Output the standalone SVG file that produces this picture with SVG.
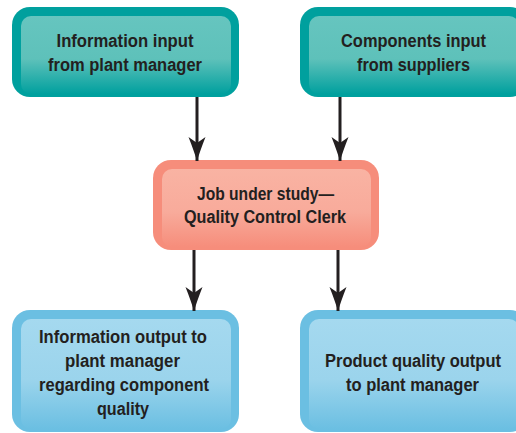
<svg xmlns="http://www.w3.org/2000/svg" width="516" height="433" viewBox="0 0 516 433">
  <defs>
    <linearGradient id="gTeal" x1="0" y1="0" x2="0" y2="1">
      <stop offset="0" stop-color="#66c5bf"/>
      <stop offset="0.55" stop-color="#5ec1ba"/>
      <stop offset="1" stop-color="#00a09e"/>
    </linearGradient>
    <linearGradient id="gSalmon" x1="0" y1="0" x2="0" y2="1">
      <stop offset="0" stop-color="#f9b3a3"/>
      <stop offset="0.55" stop-color="#f8ab9b"/>
      <stop offset="1" stop-color="#f68d7b"/>
    </linearGradient>
    <linearGradient id="gBlue" x1="0" y1="0" x2="0" y2="1">
      <stop offset="0" stop-color="#a5d9ef"/>
      <stop offset="0.55" stop-color="#9bd4ec"/>
      <stop offset="1" stop-color="#6bbfe2"/>
    </linearGradient>
    <marker id="arrow" markerUnits="userSpaceOnUse" markerWidth="26" markerHeight="20" refX="24" refY="10" orient="auto">
      <path d="M24,10 Q14,7 0,1.5 L6,10 L0,18.5 Q14,13 24,10 Z" fill="#231f20"/>
    </marker>
    <style>
      .teal { fill: #00a09e; }
      .salmon { fill: #f68d7b; }
      .blue { fill: #6bbfe2; }
      .lbl { font-family: "Liberation Sans", "DejaVu Sans", sans-serif; font-weight: bold; font-size: 18px; fill: #231f20; text-anchor: middle; }
      .conn { stroke: #231f20; stroke-width: 3; fill: none; marker-end: url(#arrow); }
    </style>
  </defs>

  <g id="node-info-input">
    <rect class="teal" x="12" y="7" width="227" height="90" rx="18"/>
    <rect x="21" y="16" width="210" height="78" rx="10" fill="url(#gTeal)"/>
    <text class="lbl" x="125" y="47" textLength="137" lengthAdjust="spacingAndGlyphs">Information input</text>
    <text class="lbl" x="125" y="71" textLength="154" lengthAdjust="spacingAndGlyphs">from plant manager</text>
  </g>

  <g id="node-components-input">
    <rect class="teal" x="300" y="7" width="228" height="90" rx="18"/>
    <rect x="309" y="16" width="210" height="78" rx="10" fill="url(#gTeal)"/>
    <text class="lbl" x="413.5" y="47" textLength="145" lengthAdjust="spacingAndGlyphs">Components input</text>
    <text class="lbl" x="413.5" y="71" textLength="113" lengthAdjust="spacingAndGlyphs">from suppliers</text>
  </g>

  <g id="node-job">
    <rect class="salmon" x="153" y="160" width="226" height="90" rx="18"/>
    <rect x="162" y="169" width="209" height="78" rx="10" fill="url(#gSalmon)"/>
    <text class="lbl" x="265.5" y="200" textLength="137" lengthAdjust="spacingAndGlyphs">Job under study—</text>
    <text class="lbl" x="265" y="223" textLength="162" lengthAdjust="spacingAndGlyphs">Quality Control Clerk</text>
  </g>

  <g id="node-info-output">
    <rect class="blue" x="12" y="310" width="227" height="122" rx="18"/>
    <rect x="21" y="319" width="210" height="110" rx="10" fill="url(#gBlue)"/>
    <text class="lbl" x="123" y="343" textLength="168" lengthAdjust="spacingAndGlyphs">Information output to</text>
    <text class="lbl" x="122.5" y="367" textLength="115" lengthAdjust="spacingAndGlyphs">plant manager</text>
    <text class="lbl" x="124" y="391" textLength="170" lengthAdjust="spacingAndGlyphs">regarding component</text>
    <text class="lbl" x="123" y="415" textLength="52" lengthAdjust="spacingAndGlyphs">quality</text>
  </g>

  <g id="node-product-output">
    <rect class="blue" x="300" y="310" width="228" height="122" rx="18"/>
    <rect x="309" y="319" width="210" height="110" rx="10" fill="url(#gBlue)"/>
    <text class="lbl" x="413" y="367" textLength="176" lengthAdjust="spacingAndGlyphs">Product quality output</text>
    <text class="lbl" x="412.5" y="391" textLength="133" lengthAdjust="spacingAndGlyphs">to plant manager</text>
  </g>

  <g id="connectors">
    <line class="conn" x1="197" y1="97" x2="197" y2="161"/>
    <line class="conn" x1="340" y1="97" x2="340" y2="161"/>
    <line class="conn" x1="194" y1="250" x2="194" y2="311"/>
    <line class="conn" x1="338" y1="250" x2="338" y2="311"/>
  </g>
</svg>
